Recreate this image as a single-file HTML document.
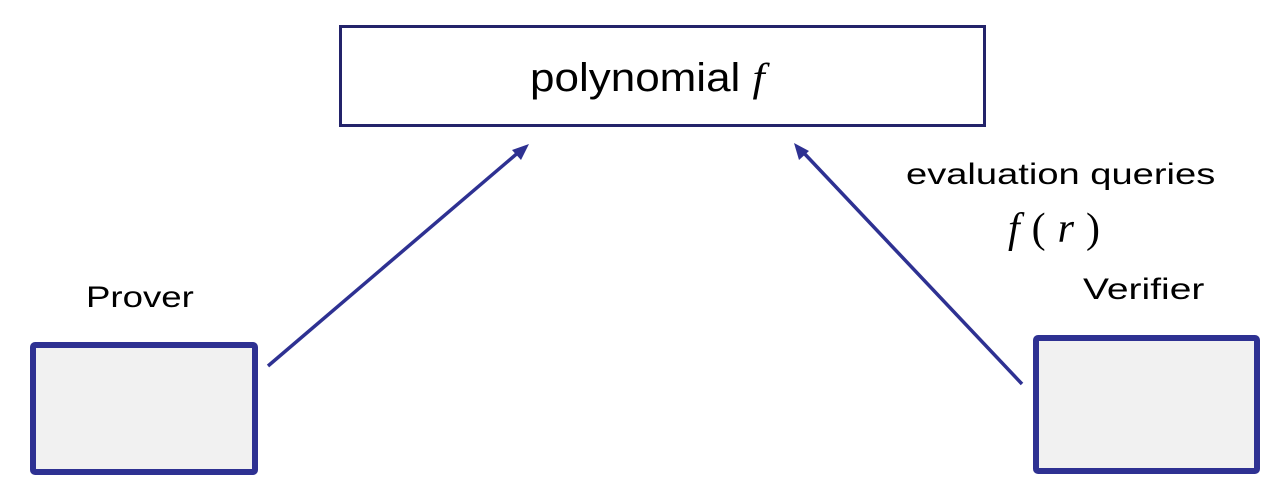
<!DOCTYPE html>
<html><head><style>
html,body{margin:0;padding:0;background:#fff;}
body{width:1280px;height:496px;position:relative;overflow:hidden;font-family:"Liberation Sans",sans-serif;}
.t{position:absolute;white-space:nowrap;color:#000;transform-origin:left center;}
</style></head><body>
<svg width="1280" height="496" style="position:absolute;left:0;top:0">
<rect x="340.5" y="26.5" width="644" height="99" fill="#fff" stroke="#23236a" stroke-width="3"/>
<rect x="33" y="345" width="222" height="127" rx="2" fill="#f1f1f1" stroke="#2e3192" stroke-width="6"/>
<rect x="1036" y="338" width="221" height="133" rx="2" fill="#f1f1f1" stroke="#2e3192" stroke-width="6"/>
<line x1="268" y1="366" x2="520" y2="151" stroke="#2e3192" stroke-width="3.5"/>
<path d="M529,144 L512,150 L521,160 Z" fill="#2e3192"/>
<line x1="1022" y1="384" x2="802" y2="151" stroke="#2e3192" stroke-width="3.5"/>
<path d="M794,143 L799,160 L809,151 Z" fill="#2e3192"/>
</svg>
<div class="t" style="left:530px;top:54px;font-size:40px;line-height:48px;transform:scaleX(1.1);">polynomial <span style="font-family:'Liberation Serif',serif;font-style:italic;">f</span></div>
<div class="t" style="left:86px;top:280px;font-size:30px;line-height:36px;transform:scaleX(1.22);">Prover</div>
<div class="t" style="left:1083px;top:272px;font-size:30px;line-height:36px;transform:scaleX(1.3);">Verifier</div>
<div class="t" style="left:906px;top:157px;font-size:30px;line-height:36px;transform:scaleX(1.27);">evaluation queries</div>
<div class="t" style="left:1008px;top:204px;font-size:42px;line-height:50px;font-family:'Liberation Serif',serif;font-style:italic;letter-spacing:12px;">f<span style="font-style:normal">(</span>r<span style="font-style:normal;letter-spacing:0">)</span></div>
</body></html>
